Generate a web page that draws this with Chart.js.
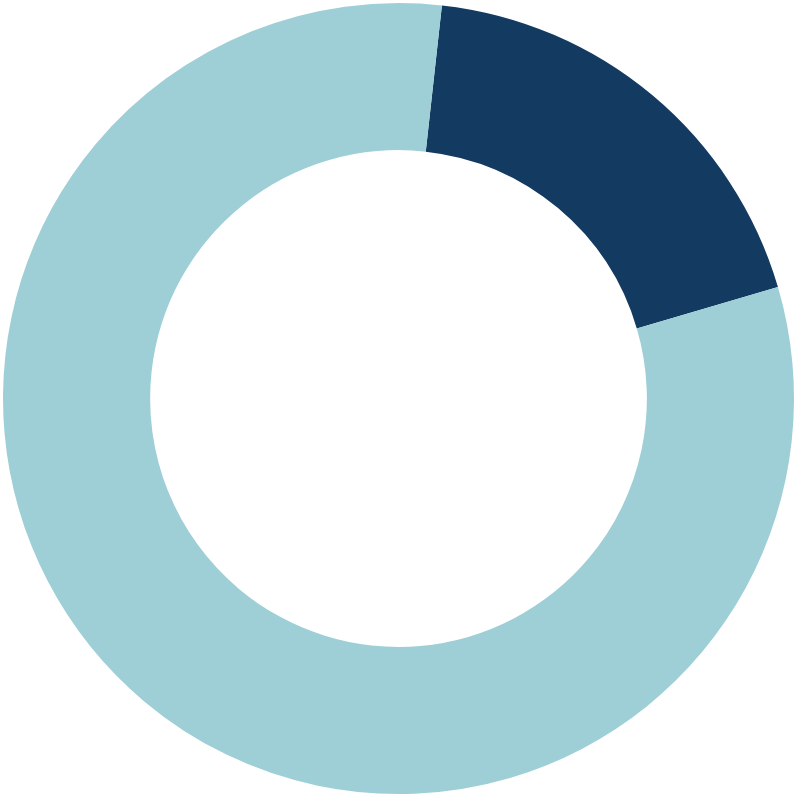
<!DOCTYPE html>
<html>
<head>
<meta charset="utf-8">
<script src="https://cdn.jsdelivr.net/npm/chart.js@4"></script>
<style>
  html, body { margin: 0; padding: 0; background: #fff; }
  #wrap { width: 800px; height: 800px; }
</style>
</head>
<body>
<div id="wrap"><canvas id="chart"></canvas></div>
<script>
// data
var labels = ['Part', 'Rest'];
var values = [18.7, 81.3];
var colors = ['#133a60', '#9ecfd6'];

var config = {
  type: 'doughnut',
  data: {
    labels: labels,
    datasets: [{
      data: values,
      backgroundColor: colors,
      borderWidth: 0
    }]
  },
  options: {
    responsive: true,
    maintainAspectRatio: false,
    animation: false,
    rotation: 6.3,
    cutout: '62.8%',
    layout: { padding: { left: 2, right: 5, top: 3, bottom: 6 } },
    plugins: {
      legend: { display: false },
      tooltip: { enabled: false }
    }
  }
};

var myChart = new Chart(document.getElementById('chart'), config);
</script>
</body>
</html>
